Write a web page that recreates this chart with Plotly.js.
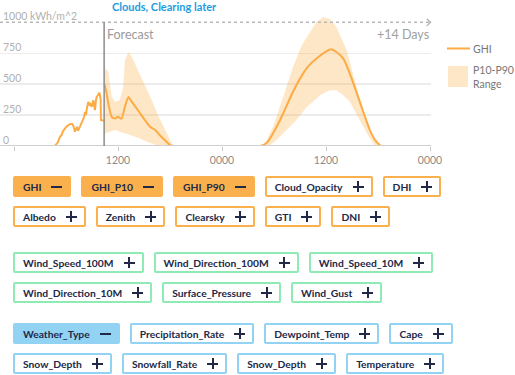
<!DOCTYPE html>
<html>
<head>
<meta charset="utf-8">
<script src="https://cdn.plot.ly/plotly-3.0.1.min.js"></script>
<style>
  html, body { margin:0; padding:0; background:#fff; width:515px; height:375px; overflow:hidden; }
  #chart { position:absolute; left:0; top:0; width:515px; height:165px; }
  .group { position:absolute; left:13px; }
  .row { display:flex; gap:10px; height:21px; margin-bottom:9px; }
  .btn { display:inline-flex; align-items:center; box-sizing:border-box; height:21px; border:2px solid; border-radius:2px;
         padding:0 7px 0 8px; font:700 10.3px Lato, 'Open Sans', sans-serif; color:#222847; background:#fff; white-space:nowrap; }
  .icon { position:relative; width:11px; height:11px; margin-left:10px; }
  .icon::before { content:''; position:absolute; left:0; top:4.5px; width:11px; height:2px; background:#222847; }
  .icon.plus::after { content:''; position:absolute; left:4.5px; top:0; width:2px; height:11px; background:#222847; }
</style>
</head>
<body>
<div id="chart"></div>
<div id="buttons"></div>
<script>
// ---- data (hours from 00:00 of day 1) ----
const obsHours = [0, 4.7, 5.07, 5.3, 5.5, 5.65, 5.9, 6.1, 6.46, 6.7, 6.84, 7.04, 7.15, 7.27, 7.4, 7.6, 7.8, 7.96, 8.07, 8.2, 8.3, 8.4, 8.57, 8.7, 8.8, 8.96, 9.05, 9.15, 9.23, 9.34, 9.46, 9.54, 9.68, 9.84, 9.95, 10.0, 10.03, 10.2, 10.36];
const obsGHI   = [0, 0,   30,   75,  90,  120,  143, 160, 177,  180, 165,  115,  140,  150,  125, 156, 175, 210,  230,  276, 250, 300, 357,  330, 340, 317,  350,  371,  330,  290,  370,  397,  410,  432,  400,  371, 210,   205,  205];

const fcHours = [10.4, 10.5, 10.88, 11.27, 11.65, 12.0, 12.4, 12.8, 13.2, 13.6, 14.15, 14.7, 15.1, 15.7, 16.3, 16.8, 17.4, 18.0, 18.4, 28.4, 28.8, 29.3, 30.1, 31.06, 32.0, 33.0, 33.9, 34.9, 35.9, 36.6, 37.2, 38.0, 38.75, 39.5, 40.3, 41.06, 41.8, 42.4, 48];
const fcGHI   = [480,  492,  344,   236,   223,   236,  220,  317,  397,  357,  304,   250,  210,  156,  129,  89,   48,   8,    0,    0,    8,    35,   129,  263,   411,  545,  640,  707,  760,  782,  760,  707,  586,   438,  276,  129,   35,   0,    0];

const p90Hours = [10.4, 10.6, 10.88, 11.07, 11.27, 11.65, 12.2, 12.6, 12.8, 13.2, 13.6, 14.3, 15.1, 15.9, 16.6, 17.4, 18.2, 18.6, 28.6, 28.95, 29.9, 31.06, 32.2, 33.2, 34.0, 34.9, 35.7, 36.45, 37.2, 38.4, 39.1, 39.9, 40.7, 41.4, 42.2, 42.6, 48];
const p90      = [590,  625,  600,   478,   397,   357,   370,  478,  693,  760,  720,  613,  492,  371,  250,  129,  22,   0,    0,    22,    156,  397,   640,  814,  908,  1002, 1042, 1030,  962,  774,  586,  384,  210,  75,   8,    0,    0];

const p10Hours = [10.4, 10.5, 10.88, 11.07, 11.65, 12.2, 12.8, 13.3, 13.9, 14.5, 15.1, 15.7, 16.3, 16.8, 29.5, 30.3, 31.45, 32.6, 33.8, 34.5, 35.3, 36.45, 37.2, 38.0, 38.75, 39.5, 40.3, 41.06, 41.6, 42.0, 48];
const p10      = [100,  100,  110,   115,   129,   115,  102,  89,   75,   62,   40,   22,   10,   0,    5,    48,   129,   210,  317,  357,  411,  451,   451,  411,  357,   263,  156,  62,    8,    0,    0];

const tickHours  = [0, 12, 24, 36, 48];
const tickLabels = ['', '1200', '0000', '1200', '0000'];
const yTicks = [0, 250, 500, 750, 1000];
const yTickLabels = ['0', '250', '500', '750', '1000 kWh/m^2'];
const nowHour = 10.4;

// ---- buttons ----
const solarRows  = [['GHI','GHI_P10','GHI_P90','Cloud_Opacity','DHI'], ['Albedo','Zenith','Clearsky','GTI','DNI']];
const solarOn    = ['GHI','GHI_P10','GHI_P90'];
const windRows   = [['Wind_Speed_100M','Wind_Direction_100M','Wind_Speed_10M'], ['Wind_Direction_10M','Surface_Pressure','Wind_Gust']];
const windOn     = [];
const weatherRows = [['Weather_Type','Precipitation_Rate','Dewpoint_Temp','Cape'], ['Snow_Depth','Snowfall_Rate','Snow_Depth','Temperature']];
const weatherOn  = ['Weather_Type'];

function buildGroup(rows, on, color, top) {
  const g = document.createElement('div');
  g.className = 'group';
  g.style.top = top + 'px';
  rows.forEach(r => {
    const row = document.createElement('div');
    row.className = 'row';
    r.forEach(name => {
      const b = document.createElement('div');
      b.className = 'btn';
      b.style.borderColor = color;
      const active = on.includes(name);
      if (active) b.style.background = color;
      const t = document.createElement('span');
      t.textContent = name;
      b.appendChild(t);
      const ic = document.createElement('span');
      ic.className = 'icon' + (active ? '' : ' plus');
      b.appendChild(ic);
      row.appendChild(b);
    });
    g.appendChild(row);
  });
  document.getElementById('buttons').appendChild(g);
}
buildGroup(solarRows, solarOn, '#fbb04e', 176);
buildGroup(windRows, windOn, '#8eebb6', 252);
buildGroup(weatherRows, weatherOn, '#92d2f3', 323);

// ---- chart ----
const bandX = p90Hours.concat(p10Hours.slice().reverse());
const bandY = p90.concat(p10.slice().reverse());
const orange = '#fcab45';
const bandColor = 'rgba(252,175,70,0.30)';

const traces = [
  { x: bandX, y: bandY, type:'scatter', mode:'lines', fill:'toself', fillcolor: bandColor,
    line:{width:0}, hoverinfo:'skip', showlegend:false },
  { x: obsHours, y: obsGHI, type:'scatter', mode:'lines', line:{color:orange, width:2}, showlegend:false },
  { x: fcHours, y: fcGHI, type:'scatter', mode:'lines', line:{color:orange, width:2, shape:'spline', smoothing:0.5}, showlegend:false }
];

const grey = '#9a9a9a';
const yLabelAnns = yTicks.map((v, i) => ({
  text: yTickLabels[i], xref:'paper', yref:'y', x:0, y:v, xanchor:'left', yanchor:'middle', xshift:1, yshift:6,
  showarrow:false, font:{size:10.5, color:'#b0b0b0'}
}));

const layout = {
  width:515, height:165,
  margin:{l:0, r:84, t:10, b:19},
  paper_bgcolor:'#fff', plot_bgcolor:'#fff',
  font:{family:'Lato, "Open Sans", sans-serif', color:grey, size:11},
  showlegend:false,
  xaxis:{ range:[-1.615, 48.115], tickvals:tickHours, ticktext:tickLabels, showgrid:false, zeroline:false,
          ticks:'outside', ticklen:4, tickcolor:'#c8c8c8', tickwidth:1, showline:false,
          tickfont:{size:10.5, color:'#8a8a8a'}, fixedrange:true },
  yaxis:{ range:[0, 1100], tickvals:yTicks.slice(0, 4), showticklabels:false, showgrid:true, gridcolor:'#ececec', gridwidth:1.5,
          zeroline:false, ticks:'', showline:false, fixedrange:true },
  shapes:[
    { type:'line', xref:'paper', x0:0, x1:1, yref:'y', y0:0, y1:0, line:{color:'#cfcfcf', width:2} },
    { type:'line', xref:'paper', x0:0, x1:1, yref:'y', y0:1000, y1:1000, line:{color:'#b8b8b8', width:1.5, dash:'dot'} },
    { type:'path', xref:'paper', yref:'y', path:'M 0.99,1028 L 0.999,1000 L 0.99,972', line:{color:'#a8a8a8', width:1.2} },
    { type:'line', xref:'x', x0:nowHour, x1:nowHour, yref:'y', y0:0, y1:1000, line:{color:'#8c8c8c', width:1.5} },
    { type:'line', xref:'paper', yref:'paper', x0:447/431, x1:470/431, y0:(146-48.5)/136, y1:(146-48.5)/136, line:{color:orange, width:2} },
    { type:'rect', xref:'paper', yref:'paper', x0:448/431, x1:468/431, y0:(146-87)/136, y1:(146-66)/136, fillcolor:bandColor, line:{width:0} }
  ],
  annotations: yLabelAnns.concat([
    { text:'Clouds, Clearing later', xref:'paper', yref:'paper', x:164/431, y:1, yanchor:'middle', yshift:4,
      showarrow:false, font:{size:11, color:'#1d9de0', family:'Lato, sans-serif', weight:700} },
    { text:'Forecast', xref:'x', yref:'y', x:nowHour, y:1000, xanchor:'left', yanchor:'top', xshift:1, yshift:-3,
      showarrow:false, font:{size:12.5, color:'#9a9a9a'} },
    { text:'+14 Days', xref:'paper', yref:'y', x:1, y:1000, xanchor:'right', yanchor:'top', yshift:-3,
      showarrow:false, font:{size:12.5, color:'#a0a0a0'} },
    { text:'GHI', xref:'paper', yref:'paper', x:471/431, y:(146-48.5)/136, xanchor:'left', yanchor:'middle',
      showarrow:false, font:{size:10.5, color:'#777'} },
    { text:'P10-P90<br>Range', xref:'paper', yref:'paper', x:471/431, y:(146-77)/136, xanchor:'left', yanchor:'middle',
      align:'left', showarrow:false, font:{size:10.5, color:'#777'} }
  ])
};

Plotly.newPlot('chart', traces, layout, {displayModeBar:false, staticPlot:true});
</script>
</body>
</html>
